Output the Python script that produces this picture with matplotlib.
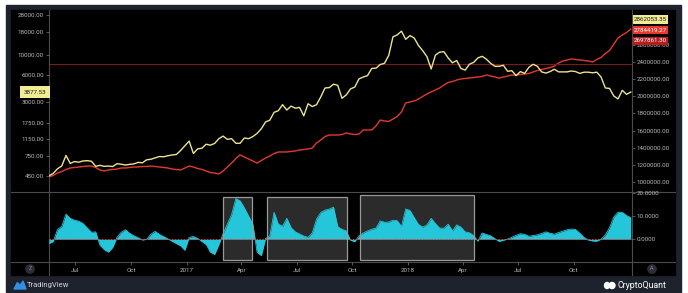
import numpy as np
import pandas as pd
import matplotlib
matplotlib.use('Agg')
import matplotlib.pyplot as plt
import matplotlib.dates as mdates
from matplotlib.patches import Rectangle, Ellipse, Polygon
from matplotlib.lines import Line2D
from matplotlib.ticker import NullLocator, FixedLocator
from matplotlib.transforms import blended_transform_factory

plt.rcParams['font.family'] = ['Roboto', 'DejaVu Sans']

# weekly samples
dates = pd.date_range('2016-05-19', periods=138, freq='7D')

price = [450, 480, 540, 580, 760, 620, 650, 640, 660, 665, 655, 575, 590, 575, 580, 572,
         615, 607, 595, 605, 612, 637, 630, 680, 690, 715, 740, 735, 755, 770, 780, 865,
         975, 1100, 800, 900, 915, 1015, 990, 1035, 1170, 1250, 1150, 1170, 1040, 1040,
         1190, 1170, 1235, 1340, 1510, 1800, 1880, 2300, 2400, 2800, 2440, 2700, 2560,
         2610, 2100, 2870, 2670, 2800, 3420, 4300, 4340, 4740, 4600, 3300, 3600, 4200,
         4400, 5430, 5700, 5900, 7100, 7150, 7850, 8100, 9900, 16000, 16800, 18500, 15000,
         16500, 15500, 12800, 11200, 9600, 7000, 10000, 10800, 10900, 9300, 8200, 8700,
         7100, 6800, 7900, 8300, 9300, 9700, 9000, 8100, 7500, 7500, 7700, 6600, 6700,
         5900, 6550, 6250, 7300, 7900, 7500, 6500, 6300, 6550, 6950, 6500, 6500, 6500,
         6650, 6550, 6250, 6450, 6450, 6350, 6450, 5700, 4300, 4250, 3500, 3250, 4050,
         3650, 3877.53]

red = [1058000, 1076000, 1105000, 1122000, 1146000, 1163000, 1169000, 1175000, 1181000, 1186000,
       1186000, 1169000, 1140000, 1128000, 1140000, 1146000, 1151000, 1163000, 1163000, 1169000,
       1175000, 1175000, 1181000, 1181000, 1186000, 1181000, 1175000, 1169000, 1163000, 1151000,
       1146000, 1140000, 1163000, 1186000, 1175000, 1157000, 1146000, 1128000, 1110000, 1105000,
       1093000, 1128000, 1175000, 1221000, 1274000, 1315000, 1291000, 1268000, 1245000, 1221000,
       1251000, 1280000, 1303000, 1332000, 1350000, 1350000, 1350000, 1356000, 1362000, 1373000,
       1379000, 1385000, 1396000, 1455000, 1490000, 1530000, 1548000, 1548000, 1548000, 1554000,
       1572000, 1560000, 1554000, 1560000, 1607000, 1607000, 1607000, 1653000, 1723000, 1712000,
       1706000, 1735000, 1764000, 1817000, 1922000, 1933000, 1945000, 1968000, 1997000, 2027000,
       2050000, 2073000, 2097000, 2132000, 2161000, 2172000, 2190000, 2202000, 2207000, 2213000,
       2219000, 2225000, 2231000, 2248000, 2237000, 2225000, 2213000, 2225000, 2237000, 2248000,
       2248000, 2254000, 2260000, 2266000, 2283000, 2301000, 2312000, 2324000, 2336000, 2353000,
       2388000, 2412000, 2423000, 2435000, 2429000, 2423000, 2418000, 2412000, 2400000, 2429000,
       2453000, 2499000, 2534000, 2610000, 2680000, 2715000, 2744000, 2784419.27]

osc = [-1.8, -1, 4.2, 5.5, 10.8, 9.0, 8.2, 7.8, 6.8, 4.9, 3, 3.2, -2.5, -4.4, -5.5, -3.5,
       0.8, 3, 4.1, 2.6, 1.5, 0.7, -0.3, 0, 2.2, 3.4, 2.1, 1.2, 0.2, -0.8, -1.8, -2.8,
       -4.7, 0.8, 1.2, 0.4, -0.9, -2.2, -5.5, -6.5, -2.3, 2.4, 6.5, 10.6, 17.5, 16.5,
       13.5, 10, 6.5, -5.5, -7, 0.3, 1.5, 11.6, 6.5, 5.6, 9.0, 5, 3.2, 2.3, 1.4, 0.8,
       2.8, 8.6, 11.5, 12.5, 13, 13.8, 5.4, 4.3, 3.6, -0.4, -1, 1.5, 2.7, 3.6, 4.3, 4.8,
       7.9, 7.3, 7.4, 8.2, 8.0, 5.5, 13, 12.4, 9.3, 6.4, 5.2, 6.2, 9, 6.7, 4.8, 4.8,
       6.5, 3.6, 6.2, 5.2, 3.2, 2.8, 1.6, -0.8, 2.7, 2.1, 1.5, 0.3, -0.9, -0.4, 0.1, 0.9,
       1.7, 2.4, 2.1, 1.3, 1.6, 1.9, 2.5, 3.2, 2.6, 2.2, 2.9, 3.5, 4.1, 4.4, 4.2, 2.6,
       0.8, -0.3, -0.7, -0.8, 0.1, 1.8, 5, 9.6, 11.6, 11.6, 10.2, 9.3]

# highlighted periods in the lower panel
box_start = ['2017-03-02', '2017-05-14', '2017-10-14']
box_end = ['2017-04-18', '2017-09-23', '2018-04-20']
box_top = [18.2, 18.2, 19.0]
box_bottom = -8.9

price_ticks = [450, 750, 1150, 1750, 3000, 6000, 10000, 18000, 28000]
right_ticks = [1000000, 1200000, 1400000, 1600000, 1800000, 2000000, 2200000, 2400000, 2600000]
osc_ticks = [0, 10, 20]
month_ticks = ['2016-07-01', '2016-10-01', '2017-01-01', '2017-04-01', '2017-07-01',
               '2017-10-01', '2018-01-01', '2018-04-01', '2018-07-01', '2018-10-01']
month_labels = ['Jul', 'Oct', '2017', 'Apr', 'Jul', 'Oct', '2018', 'Apr', 'Jul', 'Oct']

last_labels = [('2862053.35', '#f2ec94', '#1a1a1a'),
               ('2784419.27', '#e8392f', 'white'),
               ('2697861.30', '#b71c1c', 'white')]
level_line = 2382000

NAVY = '#1e222d'
GRID = '#4a4a4a'
TXT = '#b8b8b8'
YELLOW = '#ece48e'
RED = '#e5392f'
CYAN = '#26c6da'
FS = 4.5

W, H = 688, 293
fig = plt.figure(figsize=(6.88, 2.93), dpi=100, facecolor='white')


def fx(px):
    return px / W


def fy(py):
    return 1 - py / H


fig.patches.append(Rectangle((fx(6), fy(292)), fx(681) - fx(6), fy(5) - fy(292),
                             transform=fig.transFigure, color=NAVY, zorder=-10))
fig.patches.append(Rectangle((fx(11), fy(275)), fx(675) - fx(11), fy(10) - fy(275),
                             transform=fig.transFigure, color='black', zorder=-9))

xlim = (pd.Timestamp('2016-05-19'), pd.Timestamp('2019-01-05'))

# top panel
ax1 = fig.add_axes([fx(49), fy(192), fx(632) - fx(49), fy(10) - fy(192)])
ax1r = ax1.twinx()
ax1.set_zorder(2)
ax1r.set_zorder(1)
for a in (ax1, ax1r):
    a.patch.set_visible(False)
    for s in a.spines.values():
        s.set_visible(False)

ax1r.plot(dates, red, color=RED, lw=1.0)
ax1r.axhline(level_line, color='#7a1a1a', lw=0.8)
ax1.plot(dates, price, color=YELLOW, lw=1.0)

ax1.set_yscale('log')
ax1.set_ylim(297.6, 31833)
ax1r.set_ylim(883000, 3006800)
ax1.set_xlim(xlim)
ax1.set_xticks([])

ax1.yaxis.set_major_locator(FixedLocator(price_ticks))
ax1.yaxis.set_minor_locator(NullLocator())
ax1.set_yticklabels(['%.2f' % v for v in price_ticks])
ax1r.set_yticks(right_ticks)
ax1r.set_yticklabels(['%.2f' % v for v in right_ticks])
for a in (ax1, ax1r):
    a.tick_params(axis='y', length=2, width=0.5, color='#777777', pad=1.5,
                  labelsize=FS, labelcolor=TXT)

tr = blended_transform_factory(ax1.transAxes, ax1.transData)
ax1.text(-0.0045, price[-1], '%.2f' % price[-1], transform=tr, ha='right', va='center',
         fontsize=FS, color='#1a1a1a', zorder=10, clip_on=False,
         bbox=dict(boxstyle='square,pad=0.55', fc='#f2ec94', ec='none'))
for k, (lab, fc, tc) in enumerate(last_labels):
    ax1r.text(1.0025, 1 - (9.5 + 10.6 * k) / 182, lab, transform=ax1r.transAxes,
              ha='left', va='center', fontsize=FS, color=tc, zorder=10 - k, clip_on=False,
              bbox=dict(boxstyle='square,pad=0.25', fc=fc, ec='none'))

# bottom panel
ax2 = fig.add_axes([fx(49), fy(262), fx(632) - fx(49), fy(192) - fy(262)])
ax2.set_zorder(2)
ax2.patch.set_visible(False)
for s in ax2.spines.values():
    s.set_visible(False)
for s0, s1, t in zip(box_start, box_end, box_top):
    x0 = mdates.date2num(pd.Timestamp(s0))
    x1 = mdates.date2num(pd.Timestamp(s1))
    ax2.add_patch(Rectangle((x0, box_bottom), x1 - x0, t - box_bottom,
                            fc='#2b2b2b', ec='none', zorder=1))
    ax2.add_patch(Rectangle((x0, box_bottom), x1 - x0, t - box_bottom,
                            fc='none', ec='#9a9a9a', lw=0.9, zorder=4))
ax2.fill_between(dates, 0, osc, color=CYAN, lw=0, interpolate=True, zorder=2)
ax2.plot(dates, osc, color=CYAN, lw=0.6, zorder=2)
ax2.axhline(0, color='#e0403a', lw=0.7, ls=(0, (1.5, 1.5)), zorder=3)
ax2.set_xlim(xlim)
ax2.set_ylim(-9.74, 20.3)
ax2.yaxis.tick_right()
ax2.set_yticks(osc_ticks)
ax2.set_yticklabels(['%.4f' % v for v in osc_ticks])
ax2.set_xticks([pd.Timestamp(d) for d in month_ticks])
ax2.set_xticklabels(month_labels)
ax2.tick_params(axis='y', length=2, width=0.5, color='#777777', pad=1.5,
                labelsize=FS, labelcolor=TXT)
ax2.tick_params(axis='x', length=2, width=0.5, color='#777777', pad=2.2,
                labelsize=FS, labelcolor=TXT)

# frame lines
for xp in (49, 632):
    fig.add_artist(Line2D([fx(xp), fx(xp)], [fy(275), fy(10)], transform=fig.transFigure,
                          color=GRID, lw=0.8))
for yp in (192, 262):
    fig.add_artist(Line2D([fx(11), fx(675)], [fy(yp), fy(yp)], transform=fig.transFigure,
                          color=GRID, lw=0.8))

for lab, xp in (('Z', 30), ('A', 652)):
    fig.text(fx(xp), fy(269), lab, ha='center', va='center', fontsize=3.8, color='#8a8a8a',
             bbox=dict(boxstyle='circle,pad=0.45', fc='#2a2e39', ec='none'))

# footer
fig.patches.append(Polygon([(fx(14), fy(289)), (fx(17.5), fy(282.5)), (fx(20), fy(285.5)),
                            (fx(23), fy(281)), (fx(26), fy(289))],
                           closed=True, transform=fig.transFigure, color='#2f8fe6', zorder=3))
fig.text(fx(27), fy(285.5), 'TradingView', ha='left', va='center', fontsize=5.5,
         color='#d1d4dc')
fig.patches.append(Ellipse((fx(607), fy(285.5)), 5 / W, 6 / H, transform=fig.transFigure,
                           color='white', zorder=3))
fig.patches.append(Ellipse((fx(612), fy(285.5)), 6 / W, 6 / H, transform=fig.transFigure,
                           color='white', zorder=3))
fig.text(fx(617), fy(285.5), 'CryptoQuant', ha='left', va='center', fontsize=6.3,
         color='white')

fig.savefig('out.png', dpi=100, facecolor='white')
